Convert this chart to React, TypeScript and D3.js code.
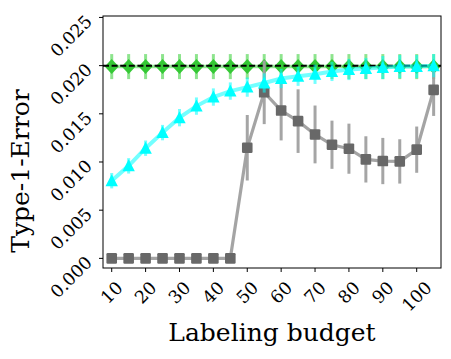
import React from "react";
import * as d3 from "d3";

const budgets = [10, 15, 20, 25, 30, 35, 40, 45, 50, 55, 60, 65, 70, 75, 80, 85, 90, 95, 100, 105];
const xTicks = [10, 20, 30, 40, 50, 60, 70, 80, 90, 100];
const yTicks = [0.0, 0.005, 0.01, 0.015, 0.02, 0.025];
const yTickLabels = ["0.000", "0.005", "0.010", "0.015", "0.020", "0.025"];

const grayMean = [0, 0, 0, 0, 0, 0, 0, 0, 0.01148, 0.01723, 0.01534, 0.01424, 0.01286, 0.01179, 0.01138, 0.01027, 0.0101, 0.01006, 0.01128, 0.01748];
const grayErr = [0, 0, 0, 0, 0, 0, 0, 0, 0.0034, 0.0033, 0.0031, 0.0033, 0.003, 0.0025, 0.0026, 0.0024, 0.0024, 0.0023, 0.0024, 0.0027];

const cyanMean = [0.00806, 0.0096, 0.01143, 0.01305, 0.0146, 0.0158, 0.01674, 0.01736, 0.01777, 0.0182, 0.01867, 0.0189, 0.0191, 0.0194, 0.0196, 0.0197, 0.0198, 0.0199, 0.0199, 0.02];
const cyanErr = [0.0008, 0.0008, 0.0008, 0.0008, 0.0009, 0.0009, 0.0009, 0.0009, 0.001, 0.001, 0.001, 0.001, 0.001, 0.001, 0.0011, 0.0011, 0.0012, 0.0012, 0.0012, 0.0012];

const greenMean = [0.0199, 0.0199, 0.0199, 0.0199, 0.0199, 0.0199, 0.0199, 0.0199, 0.0199, 0.0199, 0.0199, 0.0199, 0.0199, 0.0199, 0.0199, 0.0199, 0.0199, 0.0199, 0.0199, 0.0199];
const greenErr = [0.0013, 0.0013, 0.0013, 0.0013, 0.0013, 0.0013, 0.0013, 0.0013, 0.0013, 0.0013, 0.0013, 0.0013, 0.0013, 0.0013, 0.0013, 0.0013, 0.0013, 0.0013, 0.0013, 0.0013];

const alphaLevel = 0.02;

const W = 451;
const H = 359;
const left = 103;
const right = 441;
const top = 16;
const bottom = 268;
const FONT = "'DejaVu Serif', serif";
const tickFs = 17.5;

export default function App() {
  const x = d3.scaleLinear().domain([7.43, 107.17]).range([left, right]);
  const y = d3.scaleLinear().domain([-0.001, 0.02515]).range([bottom, top]);

  const line = (vals: number[]) =>
    d3.line<number>().x((_, i) => x(budgets[i])).y((v) => y(v))(vals) || "";

  const errBars = (vals: number[], errs: number[], color: string, opacity: number, key: string) =>
    vals.map((v, i) =>
      errs[i] > 0 ? (
        <line
          key={key + i}
          x1={x(budgets[i])}
          x2={x(budgets[i])}
          y1={y(v - errs[i])}
          y2={y(v + errs[i])}
          stroke={color}
          strokeOpacity={opacity}
          strokeWidth={3}
        />
      ) : null
    );

  return (
    <svg width={W} height={H} style={{ position: "absolute", left: 0, top: 0, background: "#fff" }}>
      <rect x={0} y={0} width={W} height={H} fill="#fff" />
      <defs>
        <clipPath id="plotclip">
          <rect x={left} y={top} width={right - left} height={bottom - top} />
        </clipPath>
      </defs>

      <g clipPath="url(#plotclip)">
        {/* green series */}
        {errBars(greenMean, greenErr, "#32cd32", 0.55, "ge")}
        <path d={line(greenMean)} fill="none" stroke="#32cd32" strokeOpacity={0.5} strokeWidth={3.5} />
        {greenMean.map((v, i) => {
          const cx = x(budgets[i]);
          const cy = y(v);
          return (
            <path
              key={"gm" + i}
              d={`M${cx},${cy - 7.5}L${cx + 7},${cy}L${cx},${cy + 7.5}L${cx - 7},${cy}Z`}
              fill="#35c835"
            />
          );
        })}

        {/* dashed nominal level */}
        <line
          x1={left}
          x2={right}
          y1={y(alphaLevel)}
          y2={y(alphaLevel)}
          stroke="#000"
          strokeWidth={2}
          strokeDasharray="6,2.6"
        />

        {/* gray series */}
        <path d={line(grayMean)} fill="none" stroke="#9a9a9a" strokeOpacity={0.9} strokeWidth={3.2} />
        {errBars(grayMean, grayErr, "#a0a0a0", 0.95, "ye")}
        {grayMean.map((v, i) => (
          <rect
            key={"gs" + i}
            x={x(budgets[i]) - 5.3}
            y={y(v) - 5.3}
            width={10.6}
            height={10.6}
            rx={1.2}
            fill="#686868"
          />
        ))}

        {/* cyan series */}
        <path d={line(cyanMean)} fill="none" stroke="#00ffff" strokeOpacity={0.55} strokeWidth={4} />
        {errBars(cyanMean, cyanErr, "#00ffff", 0.55, "ce")}
        {cyanMean.map((v, i) => {
          const cx = x(budgets[i]);
          const cy = y(v);
          return (
            <path
              key={"ct" + i}
              d={`M${cx},${cy - 6.5}L${cx + 6.2},${cy + 5.5}L${cx - 6.2},${cy + 5.5}Z`}
              fill="#00ffff"
            />
          );
        })}
      </g>

      {/* spines */}
      <rect x={left} y={top} width={right - left} height={bottom - top} fill="none" stroke="#000" strokeWidth={1} />

      {/* y ticks */}
      {yTicks.map((t, i) => (
        <g key={"yt" + i}>
          <line x1={left - 4} x2={left} y1={y(t)} y2={y(t)} stroke="#000" strokeWidth={1} />
          <text
            transform={`translate(${89},${y(t) + 1}) rotate(-45)`}
            textAnchor="end"
            dominantBaseline="central"
            fontFamily={FONT}
            fontSize={tickFs}
            fill="#000"
          >
            {yTickLabels[i]}
          </text>
        </g>
      ))}

      {/* x ticks */}
      {xTicks.map((t) => {
        const label = String(t);
        const wText = label.length * 0.636 * tickFs;
        const ext = 0.707 * (wText + 0.75 * tickFs);
        return (
          <g key={"xt" + t}>
            <line x1={x(t)} x2={x(t)} y1={bottom} y2={bottom + 4} stroke="#000" strokeWidth={1} />
            <text
              transform={`translate(${x(t)},${280 + ext / 2}) rotate(-45)`}
              textAnchor="middle"
              dominantBaseline="central"
              fontFamily={FONT}
              fontSize={tickFs}
              fill="#000"
            >
              {label}
            </text>
          </g>
        );
      })}

      {/* axis labels */}
      <text
        x={(left + right) / 2}
        y={341}
        textAnchor="middle"
        fontFamily={FONT}
        fontSize={25}
        fill="#000"
      >
        Labeling budget
      </text>
      <text
        transform={`translate(${28.5},${171}) rotate(-90)`}
        textAnchor="middle"
        fontFamily={FONT}
        fontSize={25}
        fill="#000"
      >
        Type-1-Error
      </text>
    </svg>
  );
}
